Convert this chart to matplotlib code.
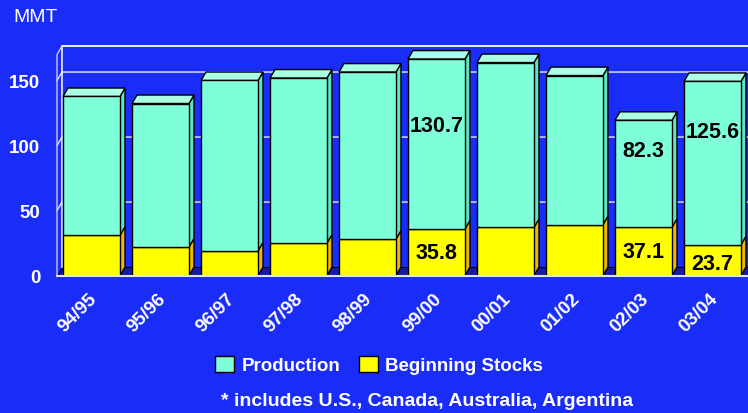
import matplotlib
matplotlib.use("Agg")
import matplotlib.pyplot as plt
from matplotlib.patches import Polygon, Patch
from matplotlib.transforms import ScaledTranslation

plt.rcParams["font.family"] = ["Liberation Sans", "DejaVu Sans"]

BG = "#1a2cf8"
AQUA = "#7fffd9"
AQUA_SIDE = "#5fe6c4"
AQUA_TOP = "#aaffe4"
YELLOW = "#ffff00"
YELLOW_SIDE = "#f0b800"
FLOOR = "#1818b0"
GRID = "#d8dcff"

seasons = ["94/95", "95/96", "96/97", "97/98", "98/99",
           "99/00", "00/01", "01/02", "02/03", "03/04"]
stocks = [31.0, 22.0, 19.0, 25.0, 28.0, 35.8, 37.0, 39.2, 37.1, 23.7]
production = [106.7, 110.3, 131.0, 126.9, 128.5, 130.7, 126.8, 114.6, 82.3, 125.6]
labeled = [5, 8, 9]
yticks = [0, 50, 100, 150]

# where inside each segment the value label sits (fraction of segment height)
prod_label_frac = {5: 0.61, 8: 0.72, 9: 0.695}
stock_label_frac = {5: 0.50, 8: 0.49, 9: 0.38}

W = 0.826    # bar width
DX = 0.0725  # depth, x units
DY = 6.5     # depth, y units
WALL_TOP = 170
XMAX = 9.515

fig = plt.figure(figsize=(7.48, 4.14), dpi=100, facecolor=BG)
ax = fig.add_axes([0.0762, 0.3321, 0.9238, 0.5568])
ax.set_facecolor(BG)
ax.set_xlim(-0.5, XMAX)
ax.set_ylim(0, 177.3)
for s in ax.spines.values():
    s.set_visible(False)

# floor
ax.add_patch(Polygon([(-0.5, 0), (XMAX, 0), (XMAX, DY), (-0.5 + DX, DY)],
                     closed=True, facecolor=FLOOR, edgecolor="black", lw=0.8,
                     zorder=1, clip_on=False))

# back wall lines / gridlines
x_back = -0.5 + DX
for v in yticks[1:]:
    ax.plot([-0.5, x_back, XMAX], [v, v + DY, v + DY], color=GRID, lw=1.1,
            zorder=2, clip_on=False)
ax.plot([x_back, XMAX], [WALL_TOP + DY, WALL_TOP + DY], color="white", lw=1.3,
        zorder=2, clip_on=False)
ax.plot([x_back, x_back], [DY, WALL_TOP + DY], color="white", lw=1.1,
        zorder=2, clip_on=False)
ax.plot([-0.5, -0.5, x_back], [0, WALL_TOP, WALL_TOP + DY], color="#c8c8e0",
        lw=1.0, zorder=2, clip_on=False)

# bars: front faces
xs = list(range(len(seasons)))
ax.bar(xs, stocks, width=W, color=YELLOW, edgecolor="black", lw=1, zorder=4)
ax.bar(xs, production, width=W, bottom=stocks, color=AQUA, edgecolor="black",
       lw=1, zorder=4)

# bars: side and top faces
for i, (s, p) in enumerate(zip(stocks, production)):
    x0, x1 = i - W / 2, i + W / 2
    t = s + p
    ax.add_patch(Polygon([(x1, 0), (x1 + DX, DY), (x1 + DX, s + DY), (x1, s)],
                         closed=True, facecolor=YELLOW_SIDE, edgecolor="black",
                         lw=1, zorder=3, clip_on=False))
    ax.add_patch(Polygon([(x1, s), (x1 + DX, s + DY), (x1 + DX, t + DY), (x1, t)],
                         closed=True, facecolor=AQUA_SIDE, edgecolor="black",
                         lw=1, zorder=3, clip_on=False))
    ax.add_patch(Polygon([(x0, t), (x0 + DX, t + DY), (x1 + DX, t + DY), (x1, t)],
                         closed=True, facecolor=AQUA_TOP, edgecolor="black",
                         lw=1, zorder=3, clip_on=False))

# front floor edge
ax.plot([-0.5, XMAX], [0, 0], color="#e0e0ff", lw=1.5, zorder=5, clip_on=False)

# value labels
for i in labeled:
    s, p = stocks[i], production[i]
    ax.text(i, s + prod_label_frac[i] * p, f"{p:.1f}", ha="center",
            va="center", fontsize=15.5, fontweight="bold", color="black",
            zorder=6)
    ax.text(i, s * stock_label_frac[i], f"{s:.1f}", ha="center", va="center",
            fontsize=15.5, fontweight="bold", color="black", zorder=6)

# ticks
ax.set_yticks(yticks)
ax.set_yticklabels([str(v) for v in yticks], fontsize=13.5, fontweight="bold",
                   color="white")
ax.set_xticks(xs)
ax.set_xticklabels(seasons, fontsize=13.5, fontweight="bold", color="white",
                   rotation=45, ha="right", va="top")
ax.tick_params(axis="both", length=0)
ax.tick_params(axis="y", pad=12)
ax.tick_params(axis="x", pad=10)
for lbl in ax.get_xticklabels():
    lbl.set_transform(lbl.get_transform()
                      + ScaledTranslation(6 / 72, 0, fig.dpi_scale_trans))

fig.text(13 / 748, 1 - 18 / 414, "MMT", fontsize=14, color="white",
         ha="left", va="center")

handles = [Patch(facecolor=AQUA, edgecolor="black", label="Production"),
           Patch(facecolor=YELLOW, edgecolor="black", label="Beginning Stocks")]
leg = fig.legend(handles=handles, loc="center", bbox_to_anchor=(0.507, 0.116),
                 ncol=2, frameon=False, handlelength=1.0, handleheight=1.0,
                 handletextpad=0.4, columnspacing=1.0,
                 prop={"size": 13.5, "weight": "bold"})
for t in leg.get_texts():
    t.set_color("white")

fig.text(0.5715, 0.029, "* includes U.S., Canada, Australia, Argentina",
         fontsize=14, fontweight="bold", color="white", ha="center",
         va="center")

fig.savefig("out.png", dpi=100, facecolor=BG)
